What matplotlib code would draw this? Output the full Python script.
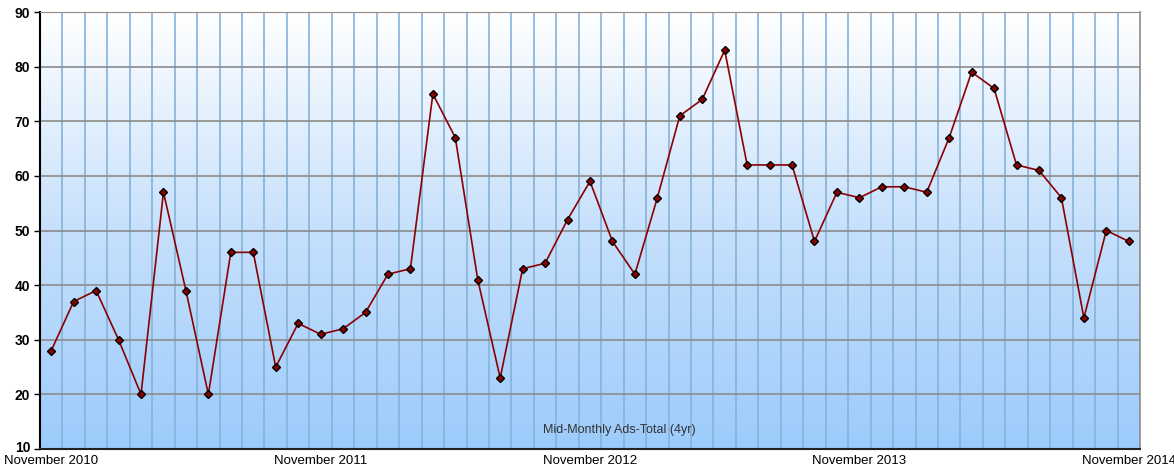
import numpy as np
import matplotlib
matplotlib.use("Agg")
import matplotlib.pyplot as plt
import matplotlib.transforms as mtransforms
from matplotlib.colors import LinearSegmentedColormap

plt.rcParams['font.family'] = ['Liberation Sans', 'DejaVu Sans']

# monthly values, Nov 2010 .. Nov 2014
ads_total = [28, 37, 39, 30, 20, 57, 39, 20, 46, 46, 25, 33, 31, 32, 35, 42, 43,
             75, 67, 41, 23, 43, 44, 52, 59, 48, 42, 56, 71, 74, 83, 62, 62, 62,
             48, 57, 56, 58, 58, 57, 67, 79, 76, 62, 61, 56, 34, 50, 48]
tick_pos = [0, 12, 24, 36, 48]
tick_labels = ["November 2010", "November 2011", "November 2012",
               "November 2013", "November 2014"]
y_ticks = [10, 20, 30, 40, 50, 60, 70, 80, 90]

n = len(ads_total)
x = np.arange(n)

fig = plt.figure(figsize=(11.74, 4.66), dpi=100)
ax = fig.add_axes([40 / 1174, 1 - 449 / 466, 1100 / 1174, 437 / 466])

# background gradient (white at top -> light blue at bottom)
cmap = LinearSegmentedColormap.from_list("bg", ["#9ccbfb", "#c6e0fc", "#ffffff"])
grad = np.linspace(0, 1, 256).reshape(-1, 1)
ax.imshow(grad, extent=[-0.5, n - 0.5, 10, 90], origin='lower', aspect='auto',
          cmap=cmap, zorder=0)

ax.set_xlim(-0.5, n - 0.5)
ax.set_ylim(10, 90)

# vertical grid lines between months
for b in np.arange(0.5, n - 0.5, 1):
    ax.axvline(b, color='#86b2d9', lw=1.2, zorder=1)
for yv in y_ticks[1:]:
    ax.axhline(yv, color='#8c8c8c', lw=1.2, zorder=1)

ax.plot(x, ads_total, color='#8b0000', lw=1.2, zorder=3)
ax.plot(x, ads_total, ls='none', marker='D', ms=4, mfc='#8b0000', mec='black',
        mew=1.0, zorder=4)

ax.set_yticks(y_ticks)
ax.set_yticklabels([str(v) for v in y_ticks], fontweight='bold', fontsize=10)
ax.set_xticks(tick_pos)
ax.set_xticklabels(tick_labels, fontsize=9.5)
ax.tick_params(axis='x', length=0, pad=4)
ax.tick_params(axis='y', length=4, width=1, pad=3)

# lift the bottom "10" a little so it clears the first date label
lbl10 = ax.get_yticklabels()[0]
lbl10.set_transform(lbl10.get_transform() +
                    mtransforms.ScaledTranslation(0, 3 / 100, fig.dpi_scale_trans))

ax.spines['left'].set_color('black')
ax.spines['left'].set_linewidth(1.5)
ax.spines['bottom'].set_color('#222222')
ax.spines['bottom'].set_linewidth(1.5)
ax.spines['top'].set_color('#8c8c8c')
ax.spines['right'].set_color('#8c8c8c')
ax.spines['right'].set_linewidth(1.2)

ax.text(0.527, 0.043, "Mid-Monthly Ads-Total (4yr)", transform=ax.transAxes,
        ha='center', va='center', fontsize=9, color='#333333', zorder=5)

fig.savefig("out.png", dpi=100)
